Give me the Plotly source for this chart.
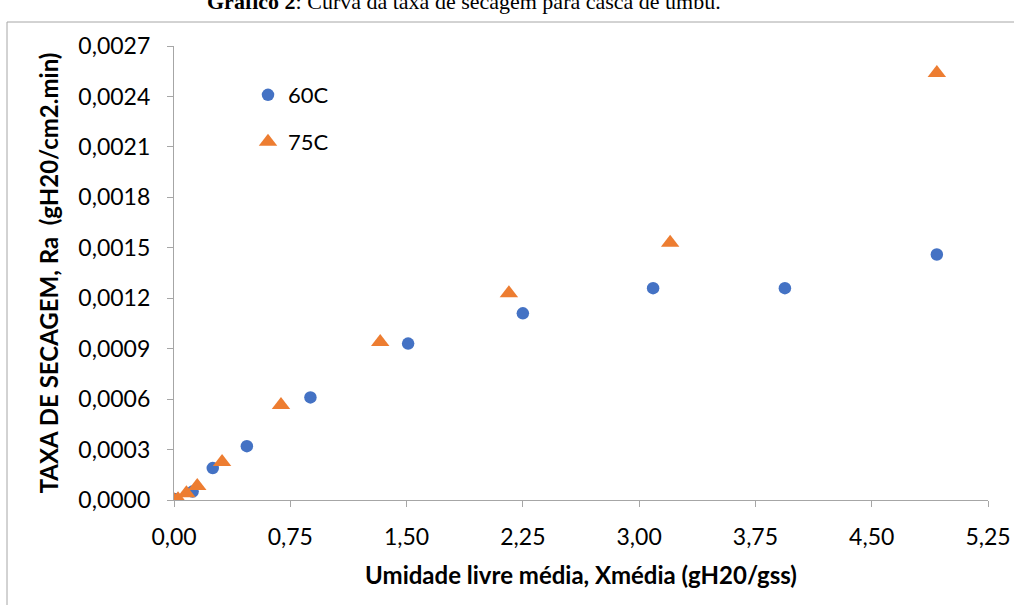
import plotly.graph_objects as go

# Data
x_60 = [0.0, 0.01, 0.12, 0.25, 0.47, 0.88, 1.51, 2.25, 3.09, 3.94, 4.92]
y_60 = [0.0, 0.000005, 0.00005, 0.00019, 0.00032, 0.00061, 0.00093, 0.00111, 0.00126, 0.00126, 0.00146]

x_75 = [0.0, 0.026, 0.08, 0.15, 0.31, 0.69, 1.33, 2.16, 3.20, 4.92]
y_75 = [0.0, 0.000004, 0.00004, 0.000083, 0.000226, 0.000565, 0.00094, 0.00123, 0.00153, 0.00254]

x_ticks = [0, 0.75, 1.5, 2.25, 3.0, 3.75, 4.5, 5.25]
x_ticklabels = ["0,00", "0,75", "1,50", "2,25", "3,00", "3,75", "4,50", "5,25"]
y_ticks = [0, 0.0003, 0.0006, 0.0009, 0.0012, 0.0015, 0.0018, 0.0021, 0.0024, 0.0027]
y_ticklabels = ["0,0000", "0,0003", "0,0006", "0,0009", "0,0012", "0,0015",
                "0,0018", "0,0021", "0,0024", "0,0027"]

BLUE = "#4472c4"
ORANGE = "#ed7d31"
FONT = "Lato, Open Sans, sans-serif"
AX = "#a6a6a6"

fig = go.Figure()
fig.add_trace(go.Scatter(x=x_60, y=y_60, mode="markers", name="60C", legend="legend",
                         marker=dict(symbol="circle", size=12.5, color=BLUE)))
fig.add_trace(go.Scatter(x=x_75, y=y_75, mode="markers", name="75C", legend="legend2",
                         marker=dict(symbol="triangle-up", size=16, color=ORANGE)))

leg_common = dict(xanchor="left", yanchor="middle", bgcolor="rgba(0,0,0,0)",
                  font=dict(size=22, family=FONT, color="#000000"), itemsizing="trace")

fig.update_layout(
    width=1014, height=605,
    margin=dict(l=174, r=26, t=46, b=105, autoexpand=False),
    paper_bgcolor="white", plot_bgcolor="white",
    font=dict(family=FONT, size=22, color="#000000"),
    showlegend=True,
    legend=dict(x=(248 - 174) / 814, y=(500 - 95) / 454, **leg_common),
    legend2=dict(x=(248 - 174) / 814, y=(500 - 142) / 454, **leg_common),
    xaxis=dict(range=[0, 5.25], tickvals=x_ticks, ticktext=x_ticklabels,
               showgrid=False, zeroline=False, showline=True, linecolor=AX,
               linewidth=1.3, ticks="outside", ticklen=6, tickcolor=AX,
               ticklabelstandoff=10, automargin=False,
               tickfont=dict(size=23, family=FONT),
               title=dict(text="<b>Umidade livre média, Xmédia (gH20/gss)</b>",
                          font=dict(size=24, family=FONT), standoff=18)),
    yaxis=dict(range=[0, 0.0027], tickvals=y_ticks, ticktext=y_ticklabels,
               showgrid=False, zeroline=False, showline=True, linecolor=AX,
               linewidth=1.3, ticks="outside", ticklen=6, tickcolor=AX,
               ticklabelstandoff=12, automargin=False,
               tickfont=dict(size=23, family=FONT),
               title=dict(text="<b>TAXA DE SECAGEM, Ra  (gH20/cm2.min)</b>",
                          font=dict(size=24, family=FONT), standoff=12)),
)

# Outer chart border (partially visible)
fig.add_shape(type="rect", xref="paper", yref="paper",
              x0=(7 - 174) / 814, x1=1.2, y0=-0.4, y1=(500 - 22) / 454,
              line=dict(color=AX, width=1), layer="below")

# Title (cut at the top)
fig.add_annotation(xref="paper", yref="paper",
                   x=(464 - 174) / 814, y=(500 - 2) / 454,
                   xanchor="center", yanchor="middle", showarrow=False,
                   text="<b>Gráfico 2</b>: Curva da taxa de secagem para casca de umbu.",
                   font=dict(family="Liberation Serif, serif", size=22, color="#000000"))

fig.write_html("out.html")
